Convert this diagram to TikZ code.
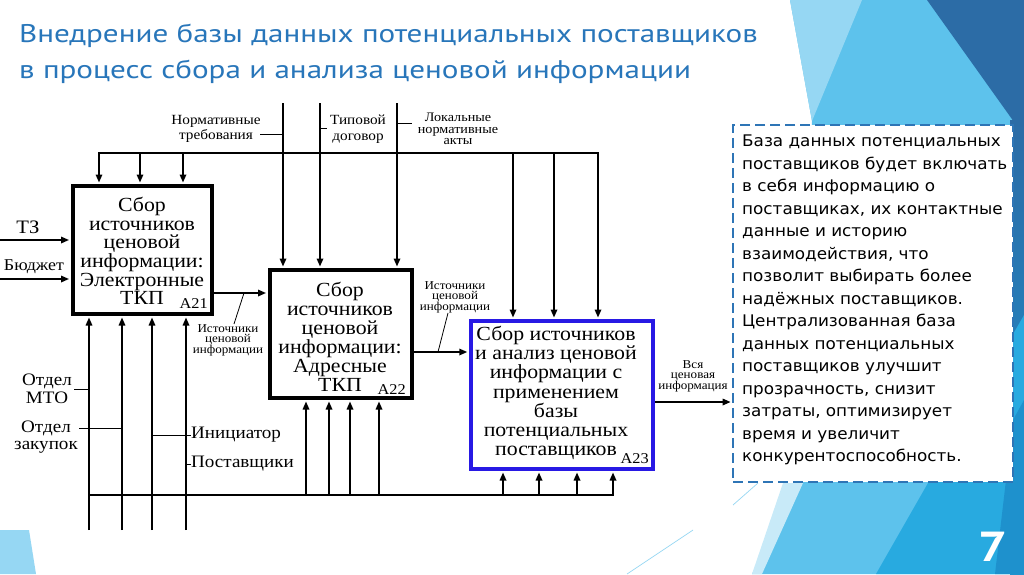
\documentclass[tikz,border=0pt]{standalone}
\usepackage{fontspec}
\setmainfont{Liberation Serif}
\newfontfamily\dgfont[FakeStretch=1.09]{Liberation Serif}
\newfontfamily\ttlfont[FakeStretch=1.22]{PT Sans}
\newfontfamily\bodyfont[FakeStretch=1.05]{DejaVu Sans}
\usetikzlibrary{arrows.meta}
\definecolor{ttlblue}{RGB}{40,118,186}
\definecolor{frameblue}{RGB}{46,117,182}
\definecolor{boxblue}{RGB}{40,25,228}
\definecolor{bgA}{RGB}{93,194,236}
\definecolor{bgLight}{RGB}{150,215,243}
\definecolor{bgPale}{RGB}{200,234,248}
\definecolor{bgDark}{RGB}{44,108,166}
\definecolor{bgMid}{RGB}{40,170,224}
\definecolor{bgDeep}{RGB}{30,145,205}
\newcommand\pxfont[2]{\fontsize{#1}{#2}\selectfont}
\lineskiplimit=-100pt
\tikzset{
  wire/.style={line width=1.6pt, draw=black},
  conn/.style={wire, -{Triangle[length=8pt,width=6.5pt]}, shorten >=1.5pt},
  lead/.style={line width=0.8pt},
  pbox/.style={draw, line width=4pt, inner sep=0pt},
  btext/.style={align=center, inner sep=0pt, font=\dgfont\pxfont{20}{18.6}},
  tag/.style={font=\dgfont\pxfont{15}{15}, inner sep=0pt, anchor=base east},
  lbl/.style={align=center, inner sep=0pt, font=\dgfont\pxfont{14}{15.5}},
  slbl/.style={align=center, inner sep=0pt, font=\dgfont\pxfont{12}{10.5}},
  blbl/.style={align=center, inner sep=0pt, font=\dgfont\pxfont{17.5}{17.5}},
  ttl/.style={anchor=base west, inner sep=0pt, text=ttlblue, font=\ttlfont\pxfont{25.5}{30}},
}
\begin{document}
\begin{tikzpicture}[x=1pt,y=-1pt]
\useasboundingbox (0,0) rectangle (1024,574);
% background
\fill[white] (0,0) rectangle (1024,574);
\fill[bgA] (790,0) -- (1024,0) -- (1024,574) -- (752,574) -- (800,483) -- (812,121) -- cycle;
\fill[bgLight] (790,0) -- (862,0) -- (812,121) -- cycle;
\fill[bgDark] (927,0) -- (1024,0) -- (1024,136) -- cycle;
\shade[top color=bgDark, bottom color=bgDeep] (1010,120) rectangle (1024,574);
\fill[bgMid] (876,574) -- (1024,315) -- (1024,574) -- cycle;
\fill[bgDeep] (995,574) -- (1013,420) -- (1024,400) -- (1024,574) -- cycle;
\fill[bgPale] (783,483) -- (803,483) -- (762,574) -- (752,574) -- cycle;
\fill[bgLight] (0,530) -- (29,530) -- (36,574) -- (0,574) -- cycle;
\draw[bgLight, line width=0.7pt] (758,483) -- (733,505);
\draw[bgLight, line width=0.7pt] (693,530) -- (627,574);
\node[anchor=center, inner sep=0pt, text=white, font=\ttlfont\bfseries\pxfont{42}{42}] (pagenum) at (993,547) {7};
% title
\node[ttl] (title1) at (19,42) {Внедрение базы данных потенциальных поставщиков};
\node[ttl] (title2) at (19,78) {в процесс сбора и анализа ценовой информации};
% text box
\node[draw=frameblue, fill=white, line width=1.8pt, dash pattern=on 10pt off 5pt, minimum width=280pt, minimum height=357pt, inner sep=0pt] (tb) at (873,303.5) {};
\node[anchor=north west, align=left, inner sep=0pt, font=\bodyfont\pxfont{16}{22.5}] (tbt) at (742,135) {База данных потенциальных\\поставщиков будет включать\\в себя информацию о\\поставщиках, их контактные\\данные и историю\\взаимодействия, что\\позволит выбирать более\\надёжных поставщиков.\\Централизованная база\\данных потенциальных\\поставщиков улучшит\\прозрачность, снизит\\затраты, оптимизирует\\время и увеличит\\конкурентоспособность.};
% boxes
\node[pbox, minimum width=139pt, minimum height=128pt] (A21) at (142,250) {};
\node[pbox, minimum width=142pt, minimum height=128pt] (A22) at (340.5,334) {};
\node[pbox, draw=boxblue, minimum width=182.5pt, minimum height=148pt] (A23) at (562,395) {};
\node[btext] (A21t) at (142,251) {Сбор\\источников\\ценовой\\информации:\\Электронные\\ТКП};
\node[tag] (A21g) at (208,308) {A21};
\node[btext, font=\dgfont\pxfont{20}{19}] (A22t) at (340,337) {Сбор\\источников\\ценовой\\информации:\\Адресные\\ТКП};
\node[tag] (A22g) at (406,394) {A22};
\node[btext, font=\dgfont\pxfont{20}{19.2}] (A23t) at (556,393) {Сбор источников\\и анализ ценовой\\информации с\\применением\\базы\\потенциальных\\поставщиков};
\node[tag] (A23g) at (649,463) {A23};
% top controls
\coordinate (c1) at (283,103);
\coordinate (c2) at (320,103);
\coordinate (c3) at (397,103);
\draw[conn] (c1) -- (c1 |- A22.north);
\draw[conn] (c2) -- (c2 |- A22.north);
\draw[conn] (c3) -- (c3 |- A22.north);
\coordinate (tA) at (99,153);
\coordinate (tB) at (140,153);
\coordinate (tC) at (183,153);
\coordinate (tD) at (513,153);
\coordinate (tE) at (554,153);
\coordinate (tF) at (598,153);
\draw[wire] (tB) -- (tE);
\draw[conn] (tB) -- (tA) -- (tA |- A21.north);
\draw[conn] (tB) -- (tB |- A21.north);
\draw[conn] (tC) -- (tC |- A21.north);
\draw[conn] (tD) -- (tD |- A23.north);
\draw[conn] (tE) -- (tE |- A23.north);
\draw[conn] (tE) -- (tF) -- (tF |- A23.north);
% top labels
\node[lbl] (lNT) at (216,129) {Нормативные\\требования};
\coordinate (lNTa) at (260,134);
\coordinate (lNTb) at (283,134);
\draw[lead] (lNTa) -- (lNTb);
\node[lbl] (lTD) at (358,129) {Типовой\\договор};
\coordinate (lTDa) at (321,128);
\coordinate (lTDb) at (327,128);
\draw[lead] (lTDa) -- (lTDb);
\node[lbl, font=\dgfont\pxfont{13}{11.2}] (lLA) at (458,129) {Локальные\\нормативные\\акты};
\coordinate (lLAa) at (398,123);
\coordinate (lLAb) at (412,123);
\draw[lead] (lLAa) -- (lLAb);
% inputs
\node[inner sep=0pt, font=\dgfont\pxfont{19}{19}] (lTZ) at (28,227) {ТЗ};
\node[inner sep=0pt, font=\dgfont\pxfont{16.5}{16.5}] (lBJ) at (34,267) {Бюджет};
\coordinate (iT) at (0,240);
\coordinate (iB) at (0,279);
\draw[conn] (iT) -- (iT -| A21.west);
\draw[conn] (iB) -- (iB -| A21.west);
% outputs between boxes
\coordinate (o1) at (240,293);
\coordinate (o2) at (440,352);
\coordinate (o3) at (690,402);
\draw[conn] (A21.east |- o1) -- (A22.west |- o1);
\draw[conn] (A22.east |- o2) -- (A23.west |- o2);
\draw[conn] (A23.east |- o3) -- (tb.west |- o3);
\node[slbl] (lIC1) at (228,340) {Источники\\ценовой\\информации};
\coordinate (l1a) at (244,293);
\coordinate (l1b) at (234,324);
\draw[lead] (l1a) -- (l1b);
\node[slbl] (lIC2) at (455,297) {Источники\\ценовой\\информации};
\coordinate (l2a) at (438,352);
\coordinate (l2b) at (448,313);
\draw[lead] (l2a) -- (l2b);
\node[slbl] (lALL) at (693,376) {Вся\\ценовая\\информация};
% mechanisms
\coordinate (b1) at (89,530);
\coordinate (b2) at (122,530);
\coordinate (b3) at (152,530);
\coordinate (b4) at (186,530);
\draw[conn] (b1) -- (b1 |- A21.south);
\draw[conn] (b2) -- (b2 |- A21.south);
\draw[conn] (b3) -- (b3 |- A21.south);
\draw[conn] (b4) -- (b4 |- A21.south);
\coordinate (bL) at (89,495);
\coordinate (bR) at (613,495);
\draw[conn] (bL) -- (bR) -- (bR |- A23.south);
\coordinate (m1) at (306,495);
\coordinate (m2) at (329,495);
\coordinate (m3) at (350,495);
\coordinate (m4) at (379,495);
\draw[conn] (m1) -- (m1 |- A22.south);
\draw[conn] (m2) -- (m2 |- A22.south);
\draw[conn] (m3) -- (m3 |- A22.south);
\draw[conn] (m4) -- (m4 |- A22.south);
\coordinate (n1) at (503,495);
\coordinate (n2) at (539,495);
\coordinate (n3) at (577,495);
\draw[conn] (n1) -- (n1 |- A23.south);
\draw[conn] (n2) -- (n2 |- A23.south);
\draw[conn] (n3) -- (n3 |- A23.south);
% mechanism labels
\node[blbl] (lMTO) at (47,389) {Отдел\\МТО};
\coordinate (lMa) at (74,389);
\draw[lead] (lMa) -- (b1 |- lMa);
\node[blbl] (lZAK) at (46,437) {Отдел\\закупок};
\coordinate (lZa) at (79,428);
\draw[lead] (lZa) -- (b2 |- lZa);
\node[blbl, anchor=west] (lINI) at (191,435) {Инициатор};
\draw[lead] (b3 |- lINI) -- (lINI.west);
\node[blbl, anchor=west] (lPOS) at (191,464) {Поставщики};
\draw[lead] (b4 |- lPOS) -- (lPOS.west);
\end{tikzpicture}
\end{document}
